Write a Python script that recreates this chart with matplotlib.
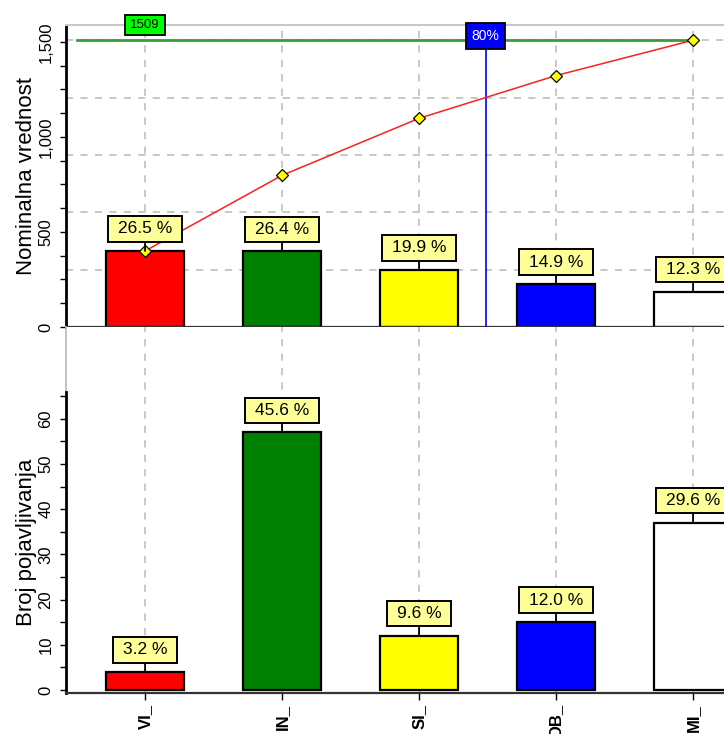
import numpy as np
import matplotlib
matplotlib.use('Agg')
import matplotlib.pyplot as plt
from matplotlib.path import Path
from matplotlib.transforms import blended_transform_factory

# ---------------- data ----------------
categories = ['VI_', 'IN_', 'SI_', 'OB_', 'MI_']
nominal = [400, 398, 300, 225, 186]          # Nominalna vrednost
counts = [4, 57, 12, 15, 37]                 # Broj pojavljivanja
bar_colors = ['#ff0000', '#008000', '#ffff00', '#0000ff', '#ffffff']
top_yticks = [0, 500, 1000, 1500]
top_yticklabels = ['0', '500', '1,000', '1,500']
bottom_yticks = [0, 10, 20, 30, 40, 50, 60]
pareto_level = 0.8

plt.rcParams['font.family'] = ['Liberation Sans', 'DejaVu Sans']

W, H = 724, 734
fig = plt.figure(figsize=(W / 100, H / 100), dpi=100)


def px_ax(left, top, right, bottom):
    return fig.add_axes([left / W, 1 - bottom / H, (right - left) / W, (bottom - top) / H])


def make_box(padx, pady):
    def box(x0, y0, width, height, mutation_size):
        px, py = padx * mutation_size, pady * mutation_size
        a0, b0 = x0 - px, y0 - py
        a1, b1 = x0 + width + px, y0 + height + py
        return Path([(a0, b0), (a1, b0), (a1, b1), (a0, b1), (a0, b0)], closed=True)
    return box


x = np.arange(len(categories))
xlim = (-0.577, 4.6)
ax_right = 66 + (xlim[1] - xlim[0]) * 137

ax1 = px_ax(66, 25, ax_right, 327)
ax2 = px_ax(66, 327, ax_right, 693)

grid_color = '#c4c4c4'
dash = (0, (4, 4))
bar_w = 0.575

total = float(sum(nominal))
cum = np.cumsum(nominal)
ncount = float(sum(counts))

# ---------------- top panel ----------------
ax1.set_xlim(xlim)
ax1.set_ylim(0, 1589)
for f in [0.2, 0.4, 0.6, 0.8, 1.0]:
    ax1.axhline(total * f, color=grid_color, ls=dash, lw=1.3, zorder=0)
for xi in x:
    ax1.axvline(xi, color=grid_color, ls=dash, lw=1.3, zorder=0)
    ax2.axvline(xi, color=grid_color, ls=dash, lw=1.3, zorder=0)

ax1.bar(x, nominal, width=bar_w, color=bar_colors, edgecolor='black', lw=1.6, zorder=2)
ax1.plot([-0.5, x[-1]], [total, total], color='#3c9c3c', lw=2, zorder=3)
ax1.plot(x, cum, color='#ff2020', lw=1.1, marker='D', ms=6.5, mfc='#ffff00',
         mec='black', mew=0.9, zorder=4)

target = pareto_level * total
k = int(np.searchsorted(cum, target))
x80 = x[k - 1] + (target - cum[k - 1]) / (cum[k] - cum[k - 1])
ax1.plot([x80, x80], [0, 1531], color='#0000ff', lw=1.2, zorder=3)

tr1 = blended_transform_factory(ax1.transData, ax1.transAxes)
ax1.text(x80, 0.9636, '%d%%' % round(pareto_level * 100), transform=tr1, ha='center',
         va='center', fontsize=10, color='white', zorder=8,
         bbox=dict(boxstyle=make_box(0.43, 0.45), fc='#0000ff', ec='black', lw=1.3))
ax1.text(0, 1.0, '%d' % total, transform=tr1, ha='center', va='center', fontsize=9.5,
         color='black', zorder=8, clip_on=False,
         bbox=dict(boxstyle=make_box(0.38, 0.33), fc='#00ff00', ec='black', lw=1.3))


def pct_label(ax, xi, v, txt):
    ax.annotate(txt, xy=(xi, v), xytext=(0, 10.5), textcoords='offset points',
                ha='center', va='bottom', fontsize=12.5, zorder=6,
                bbox=dict(boxstyle=make_box(0.58, 0.3), fc='#ffff99', ec='black', lw=1.4),
                arrowprops=dict(arrowstyle='-', color='black', lw=1.3,
                                shrinkA=0, shrinkB=0))


for xi, v in zip(x, nominal):
    pct_label(ax1, xi, v, '%.1f %%' % (v / total * 100))

ax1.spines['right'].set_visible(False)
ax1.spines['top'].set_color('#c8c8c8')
ax1.spines['top'].set_linewidth(1.5)
ax1.spines['left'].set_color('black')
ax1.spines['left'].set_linewidth(2)
ax1.spines['bottom'].set_color('#333333')
ax1.spines['bottom'].set_linewidth(1.6)

ax1.set_yticks(top_yticks)
ax1.set_yticklabels(top_yticklabels)
ax1.set_yticks(np.arange(0, 1501, 125), minor=True)
ax1.tick_params(axis='y', which='both', length=4, width=1, direction='out',
                labelsize=12, labelrotation=90, pad=5)
for lab in ax1.get_yticklabels():
    lab.set_va('center')
ax1.set_xticks(x)
ax1.set_xticks(np.arange(-0.124, 4.6, 0.458), minor=True)
ax1.tick_params(axis='x', which='major', length=0, labelbottom=False)
ax1.tick_params(axis='x', which='minor', length=4, width=1, color='#444444')
ax1.set_ylabel('Nominalna vrednost', fontsize=16)
ax1.yaxis.set_label_coords(-0.041, 0.5)

# ---------------- bottom panel ----------------
ax2.set_xlim(xlim)
ax2.set_ylim(-0.66, 80.3)
ax2.bar(x, counts, width=bar_w, color=bar_colors, edgecolor='black', lw=1.6, zorder=2)
for xi, v in zip(x, counts):
    pct_label(ax2, xi, v, '%.1f %%' % (v / ncount * 100))

ax2.spines['top'].set_visible(False)
ax2.spines['right'].set_visible(False)
ax2.spines['left'].set_color('black')
ax2.spines['left'].set_linewidth(2)
ax2.spines['left'].set_bounds(-0.66, 66)
ax2.spines['bottom'].set_color('#333333')
ax2.spines['bottom'].set_linewidth(1.6)
ax2.axvline(xlim[0], ymin=(66 + 0.66) / (80.3 + 0.66), ymax=1, color='#bdbdbd', lw=1.3,
            clip_on=False)

ax2.set_yticks(bottom_yticks)
ax2.set_yticks(np.arange(0, 66, 5), minor=True)
ax2.tick_params(axis='y', which='both', length=4, width=1, direction='out',
                labelsize=12, labelrotation=90, pad=5)
for lab in ax2.get_yticklabels():
    lab.set_va('center')
ax2.set_xticks(x)
ax2.set_xticklabels(categories, rotation=90, fontsize=12, fontweight='bold')
ax2.tick_params(axis='x', length=5, width=1, pad=3)
ax2.set_ylabel('Broj pojavljivanja', fontsize=16)
ax2.yaxis.set_label_coords(-0.041, 0.4126)

fig.savefig('out.png', dpi=100)
